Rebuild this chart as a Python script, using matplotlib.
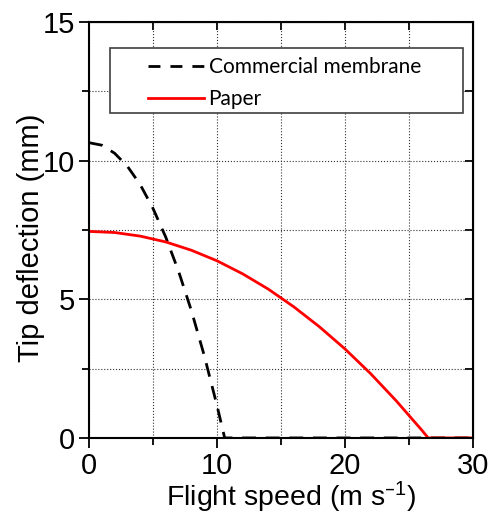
import matplotlib
matplotlib.use('Agg')
import matplotlib.pyplot as plt
from matplotlib.patches import Rectangle

plt.rcParams['font.family'] = ['Liberation Sans', 'DejaVu Sans']
plt.rcParams['mathtext.default'] = 'regular'

speed_comm = [0, 1, 2, 3, 4, 5, 6, 7, 8, 9, 10, 10.6, 30]
defl_comm = [10.65, 10.56, 10.27, 9.80, 9.14, 8.28, 7.24, 6.01, 4.59, 2.98, 1.17, 0, 0]
speed_paper = [0, 2, 4, 6, 8, 10, 12, 14, 16, 18, 20, 22, 24, 26, 26.5, 30]
defl_paper = [7.45, 7.41, 7.28, 7.07, 6.77, 6.39, 5.92, 5.37, 4.73, 4.01, 3.21, 2.32, 1.34, 0.28, 0, 0]
xticks = [0, 10, 20, 30]
yticks = [0, 5, 10, 15]
xminor = [5, 15, 25]
yminor = [2.5, 7.5, 12.5]

fig = plt.figure(figsize=(4.9, 5.14), dpi=100)
ax = fig.add_axes([0.1816, 0.148, 0.7837, 0.809])

ax.plot(speed_comm, defl_comm, color='black', ls=(0, (5, 3.5)), lw=2, label='Commercial membrane')
ax.plot(speed_paper, defl_paper, color='red', lw=2, label='Paper')

ax.set_xlim(0, 30)
ax.set_ylim(0, 15)
ax.set_xticks(xticks)
ax.set_yticks(yticks)
ax.set_xticks(xminor, minor=True)
ax.set_yticks(yminor, minor=True)
ax.tick_params(which='major', direction='out', length=7, width=1.3, labelsize=21, pad=3)
ax.tick_params(which='minor', direction='out', length=5, width=1.3)
ax.grid(True, which='both', ls=':', lw=0.8, color='#333333')
for s in ax.spines.values():
    s.set_linewidth(1.5)

# inward ticks on top and right
top = ax.secondary_xaxis('top')
top.set_xticks(xticks + xminor)
top.tick_params(direction='in', length=6, width=1.3, labeltop=False)
right = ax.secondary_yaxis('right')
right.set_yticks(yticks + yminor)
right.tick_params(direction='in', length=6, width=1.3, labelright=False)

ax.set_xlabel('Flight speed (m s$^{\u20131}$)', fontsize=20.5)
ax.xaxis.set_label_coords(0.526, -0.1)
ax.set_ylabel('Tip deflection (mm)', fontsize=21)
ax.yaxis.set_label_coords(-0.115, 0.481)

# legend box drawn separately so the wide padding matches
ax.add_patch(Rectangle((0.0547, 0.781), 0.9193, 0.1565, transform=ax.transAxes,
                       facecolor='white', edgecolor='#404040', lw=1.2, zorder=4))
leg = ax.legend(loc='upper left', bbox_to_anchor=(0.154, 0.915),
                prop={'family': 'Lato', 'size': 15}, frameon=False,
                handlelength=2.7, handletextpad=0.2, borderpad=0,
                labelspacing=0.55, borderaxespad=0)
leg.set_zorder(5)
leg.get_lines()[0].set_dashes((4.3, 3.6))

fig.savefig('out.png', dpi=100)
